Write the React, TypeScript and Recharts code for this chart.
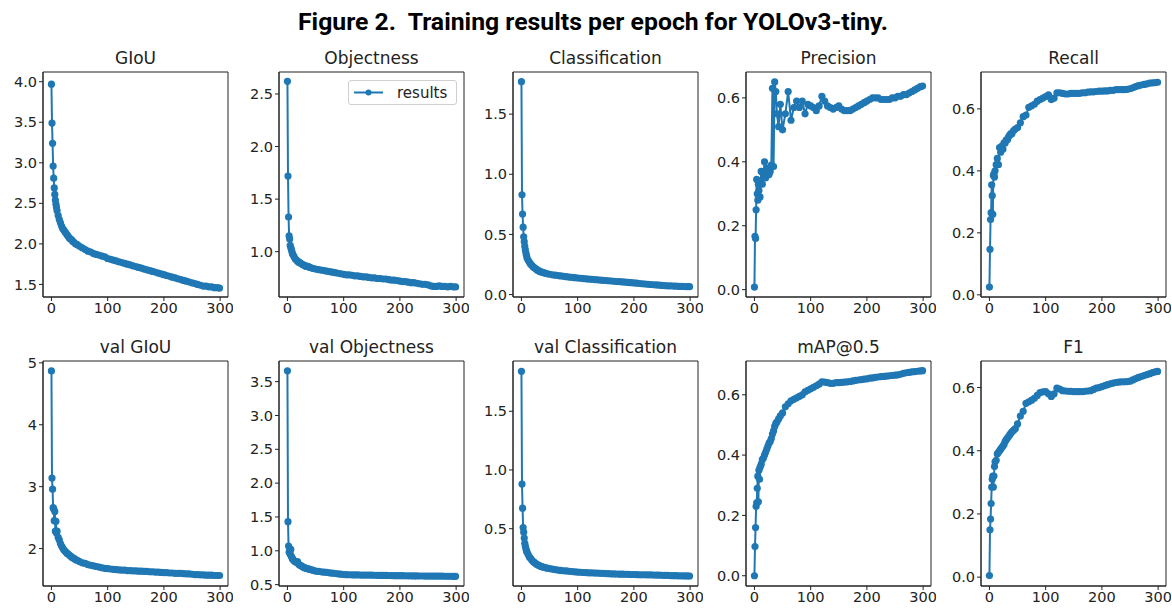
import { LineChart, Line, XAxis, YAxis, ReferenceArea } from "recharts"

// epochs sampled from the 300 training epochs
const epochs = [
  0, 1, 2, 3, 4, 5, 6, 7, 8, 9, 10,
  12, 14, 16, 18, 20, 22, 24, 26, 28, 30, 32, 34, 36, 38, 40,
  43, 46, 50,
  55, 60, 65, 70, 75, 80, 85, 90, 95, 100,
  105, 110, 115, 120, 125, 130, 135, 140, 145, 150,
  155, 160, 165, 170, 175, 180, 185, 190, 195, 200,
  205, 210, 215, 220, 225, 230, 235, 240, 245, 250,
  255, 260, 265, 270, 275, 280, 285, 290, 295,
  299,
]

const giou = [
  3.97, 3.49, 3.24, 2.96, 2.81, 2.69, 2.61, 2.54, 2.49, 2.45, 2.41,
  2.35, 2.3, 2.26, 2.22, 2.19, 2.17, 2.15, 2.13, 2.11, 2.09, 2.07, 2.06, 2.05, 2.03, 2.02,
  2.0, 1.99, 1.97,
  1.95, 1.93, 1.91, 1.9, 1.88, 1.87, 1.86, 1.85, 1.84, 1.82,
  1.81, 1.8, 1.79, 1.78, 1.77, 1.76, 1.75, 1.74, 1.73, 1.72,
  1.71, 1.7, 1.69, 1.68, 1.67, 1.66, 1.65, 1.64, 1.63, 1.62,
  1.61, 1.6, 1.59, 1.58, 1.57, 1.56, 1.55, 1.54, 1.53, 1.52,
  1.51, 1.5, 1.49, 1.48, 1.48, 1.47, 1.47, 1.46, 1.46,
  1.455,
]

const objectness = [
  2.62, 1.72, 1.33, 1.15, 1.12, 1.06, 1.04, 1.02, 1.0, 0.98, 0.97,
  0.95, 0.93, 0.92, 0.91, 0.9, 0.895, 0.89, 0.88, 0.875, 0.87, 0.865, 0.86, 0.86, 0.855, 0.85,
  0.845, 0.84, 0.835,
  0.83, 0.825, 0.82, 0.815, 0.81, 0.805, 0.8, 0.795, 0.79, 0.785,
  0.78, 0.78, 0.775, 0.77, 0.77, 0.765, 0.76, 0.76, 0.755, 0.75,
  0.75, 0.745, 0.745, 0.74, 0.74, 0.735, 0.73, 0.73, 0.725, 0.72,
  0.715, 0.715, 0.71, 0.705, 0.705, 0.7, 0.695, 0.69, 0.69, 0.685,
  0.675, 0.67, 0.67, 0.675, 0.67, 0.67, 0.665, 0.67, 0.665,
  0.665,
]

const classification = [
  1.77, 0.83, 0.67, 0.56, 0.48, 0.44, 0.4, 0.37, 0.345, 0.325, 0.305,
  0.285, 0.27, 0.255, 0.245, 0.235, 0.225, 0.22, 0.212, 0.205, 0.2, 0.195, 0.19, 0.187, 0.184, 0.181,
  0.177, 0.173, 0.169,
  0.165, 0.161, 0.158, 0.155, 0.152, 0.149, 0.146, 0.143, 0.141, 0.138,
  0.136, 0.133, 0.131, 0.129, 0.127, 0.125, 0.123, 0.121, 0.119, 0.117,
  0.115, 0.113, 0.111, 0.109, 0.107, 0.105, 0.103, 0.101, 0.099, 0.097,
  0.095, 0.092, 0.09, 0.088, 0.086, 0.084, 0.082, 0.08, 0.078, 0.076,
  0.075, 0.073, 0.072, 0.071, 0.07, 0.069, 0.068, 0.067, 0.066,
  0.066,
]

const precision = [
  0.008, 0.167, 0.16, 0.25, 0.345, 0.3, 0.28, 0.33, 0.31, 0.34, 0.29,
  0.37, 0.33, 0.36, 0.4, 0.35, 0.37, 0.38, 0.36, 0.37, 0.39, 0.63, 0.385, 0.65, 0.62, 0.55,
  0.51, 0.58, 0.5,
  0.55, 0.62, 0.53, 0.57, 0.59, 0.57, 0.59, 0.55, 0.58, 0.575,
  0.57, 0.56, 0.575, 0.605, 0.59, 0.575, 0.57, 0.565, 0.57, 0.575,
  0.565, 0.56, 0.56, 0.56, 0.565, 0.57, 0.575, 0.58, 0.585, 0.59,
  0.595, 0.6, 0.6, 0.6, 0.595, 0.595, 0.595, 0.595, 0.6, 0.6,
  0.605, 0.605, 0.61, 0.61, 0.615, 0.62, 0.625, 0.63, 0.635,
  0.637,
]

const recall = [
  0.025, 0.147, 0.243, 0.265, 0.355, 0.32, 0.26, 0.385, 0.39, 0.38, 0.4,
  0.42, 0.44, 0.42, 0.475, 0.46, 0.48, 0.47, 0.49, 0.49, 0.5, 0.5, 0.51, 0.515, 0.52, 0.52,
  0.53, 0.535, 0.54,
  0.555, 0.575, 0.58, 0.605, 0.61, 0.615, 0.625, 0.63, 0.635, 0.64,
  0.645, 0.63, 0.635, 0.652, 0.652, 0.65, 0.648, 0.648, 0.65, 0.65,
  0.65, 0.65, 0.652, 0.652, 0.654, 0.655, 0.655, 0.656, 0.657, 0.657,
  0.658, 0.658, 0.66, 0.66, 0.662, 0.662, 0.662, 0.662, 0.663, 0.665,
  0.668, 0.672, 0.675, 0.677, 0.679, 0.681, 0.683, 0.684, 0.685,
  0.686,
]

const valGiou = [
  4.87, 3.14, 2.96, 2.66, 2.64, 2.45, 2.6, 2.28, 2.44, 2.25, 2.28,
  2.18, 2.14, 2.08, 2.04, 2.01, 1.98, 1.96, 1.94, 1.92, 1.91, 1.89, 1.88, 1.86, 1.85, 1.84,
  1.82, 1.81, 1.79,
  1.77, 1.76, 1.74, 1.73, 1.72, 1.71, 1.7, 1.69, 1.68, 1.675,
  1.67, 1.665, 1.66, 1.655, 1.65, 1.65, 1.645, 1.645, 1.64, 1.64,
  1.635, 1.635, 1.63, 1.63, 1.625, 1.625, 1.62, 1.62, 1.615, 1.61,
  1.61, 1.605, 1.605, 1.6, 1.6, 1.6, 1.595, 1.59, 1.59, 1.585,
  1.58, 1.58, 1.575, 1.575, 1.57, 1.57, 1.57, 1.565, 1.565,
  1.565,
]

const valObjectness = [
  3.66, 1.43, 1.07, 0.98, 1.03, 0.95, 1.02, 0.92, 0.9, 0.88, 0.87,
  0.85, 0.84, 0.83, 0.84, 0.8, 0.79, 0.78, 0.77, 0.76, 0.75, 0.745, 0.74, 0.735, 0.73, 0.725,
  0.72, 0.71, 0.7,
  0.695, 0.69, 0.685, 0.68, 0.675, 0.67, 0.665, 0.66, 0.655, 0.65,
  0.648, 0.646, 0.645, 0.644, 0.643, 0.642, 0.641, 0.64, 0.64, 0.64,
  0.639, 0.638, 0.637, 0.636, 0.636, 0.635, 0.634, 0.633, 0.633, 0.632,
  0.632, 0.631, 0.63, 0.63, 0.629, 0.629, 0.628, 0.628, 0.627, 0.627,
  0.626, 0.626, 0.625, 0.625, 0.625, 0.624, 0.624, 0.624, 0.623,
  0.623,
]

const valClassification = [
  1.84, 0.88, 0.675, 0.51, 0.47, 0.42, 0.375, 0.35, 0.33, 0.31, 0.3,
  0.28, 0.26, 0.25, 0.235, 0.225, 0.215, 0.21, 0.2, 0.195, 0.19, 0.185, 0.18, 0.177, 0.174, 0.171,
  0.167, 0.164, 0.16,
  0.155, 0.151, 0.148, 0.145, 0.142, 0.14, 0.137, 0.135, 0.133, 0.131,
  0.129, 0.127, 0.126, 0.124, 0.123, 0.122, 0.121, 0.12, 0.119, 0.118,
  0.117, 0.116, 0.115, 0.114, 0.113, 0.113, 0.112, 0.111, 0.11, 0.11,
  0.109, 0.108, 0.108, 0.107, 0.106, 0.106, 0.105, 0.104, 0.104, 0.103,
  0.102, 0.102, 0.101, 0.1, 0.1, 0.099, 0.099, 0.098, 0.098,
  0.097,
]

const mAP = [
  0.0, 0.097, 0.16, 0.23, 0.242, 0.29, 0.33, 0.245, 0.35, 0.32, 0.36,
  0.37, 0.385, 0.39, 0.4, 0.41, 0.42, 0.43, 0.44, 0.445, 0.455, 0.47, 0.48, 0.495, 0.505, 0.51,
  0.52, 0.53, 0.54,
  0.56, 0.57, 0.58, 0.585, 0.59, 0.595, 0.6, 0.61, 0.615, 0.62,
  0.625, 0.63, 0.635, 0.643, 0.642, 0.64, 0.638, 0.638, 0.64, 0.64,
  0.641, 0.642, 0.643, 0.644, 0.646, 0.648, 0.649, 0.65, 0.652, 0.653,
  0.655, 0.656, 0.658, 0.659, 0.66, 0.661, 0.662, 0.663, 0.664, 0.665,
  0.666, 0.668, 0.671, 0.673, 0.674, 0.676, 0.677, 0.678, 0.679,
  0.68,
]

const f1 = [
  0.005, 0.15, 0.184, 0.233, 0.285, 0.31, 0.32, 0.285, 0.32, 0.35, 0.365,
  0.37, 0.39, 0.395, 0.4, 0.405, 0.41, 0.415, 0.42, 0.43, 0.435, 0.44, 0.445, 0.45, 0.455, 0.46,
  0.465, 0.47, 0.485,
  0.51, 0.525, 0.55, 0.555, 0.56, 0.566, 0.575, 0.584, 0.586, 0.587,
  0.58, 0.572, 0.58, 0.598, 0.595, 0.59, 0.589, 0.588, 0.588, 0.587,
  0.587, 0.587, 0.587, 0.588, 0.589, 0.59, 0.594, 0.598, 0.6, 0.603,
  0.606, 0.609, 0.612, 0.614, 0.616, 0.617, 0.618, 0.618, 0.619, 0.62,
  0.624, 0.628, 0.632, 0.635, 0.638, 0.641, 0.644, 0.647, 0.65,
  0.651,
]

const xTicks = [0, 100, 200, 300]
const giouTicks = [1.5, 2.0, 2.5, 3.0, 3.5, 4.0]
const objTicks = [1.0, 1.5, 2.0, 2.5]
const clsTicks = [0.0, 0.5, 1.0, 1.5]
const rateTicks = [0.0, 0.2, 0.4, 0.6]
const valGiouTicks = [2, 3, 4, 5]
const valObjTicks = [0.5, 1.0, 1.5, 2.0, 2.5, 3.0, 3.5]
const valClsTicks = [0.5, 1.0, 1.5]

const BLUE = "#1f77b4"
const INK = "#222"
const FONT = "'DejaVu Sans', Verdana, sans-serif"
const X_DOMAIN: [number, number] = [-15, 314]
const COLS = [43, 279, 513, 746, 981]
const ROWS = [72, 361]
const PW = 185
const PH = 225
const YW = 40

type PanelProps = {
  title: string
  values: number[]
  domain: [number, number]
  ticks: number[]
  digits: number
  left: number
  top: number
  legend?: boolean
}

function Panel({ title, values, domain, ticks, digits, left, top, legend }: PanelProps) {
  const data = epochs.map((epoch, i) => ({ epoch, value: values[i] }))
  const tickStyle = { fontSize: 14.5, fill: INK, fontFamily: FONT }
  return (
    <div style={{ position: "absolute", left: left - YW, top: top - 5, width: YW + PW + 5, height: PH + 30 }}>
      <div
        style={{
          position: "absolute",
          left: YW,
          width: PW,
          top: -19,
          lineHeight: "20px",
          textAlign: "center",
          fontSize: 17,
          fontFamily: FONT,
          color: INK,
          whiteSpace: "nowrap",
        }}
      >
        {title}
      </div>
      <LineChart width={YW + PW + 5} height={PH + 30} data={data} margin={{ top: 5, right: 5, bottom: 0, left: 0 }}>
        <XAxis
          dataKey="epoch"
          type="number"
          domain={X_DOMAIN}
          ticks={xTicks}
          interval={0}
          allowDataOverflow
          height={25}
          tickSize={4}
          tickMargin={2}
          stroke={INK}
          tick={tickStyle}
        />
        <YAxis
          type="number"
          domain={domain}
          ticks={ticks}
          interval={0}
          allowDataOverflow
          width={YW}
          tickSize={4}
          tickMargin={2}
          stroke={INK}
          tick={tickStyle}
          tickFormatter={(v: number) => v.toFixed(digits)}
        />
        <Line
          type="linear"
          dataKey="value"
          stroke={BLUE}
          strokeWidth={2}
          dot={{ r: 3.6, fill: BLUE, stroke: BLUE, strokeWidth: 0 }}
          activeDot={false}
          isAnimationActive={false}
        />
        <ReferenceArea
          x1={X_DOMAIN[0]}
          x2={X_DOMAIN[1]}
          y1={domain[0]}
          y2={domain[1]}
          fill="none"
          stroke={INK}
          strokeWidth={1}
          ifOverflow="visible"
        />
      </LineChart>
      {legend && (
        <div
          style={{
            position: "absolute",
            left: 109,
            top: 13,
            width: 107,
            height: 23,
            border: "1px solid #cfcfcf",
            borderRadius: 3,
            background: "#fff",
            display: "flex",
            alignItems: "center",
            fontFamily: FONT,
            fontSize: 15,
            color: INK,
          }}
        >
          <svg width={48} height={23}>
            <line x1={5} x2={34} y1={11.5} y2={11.5} stroke={BLUE} strokeWidth={2} />
            <circle cx={19.5} cy={11.5} r={3} fill={BLUE} />
          </svg>
          <span>results</span>
        </div>
      )}
    </div>
  )
}

export default function App() {
  return (
    <div style={{ position: "absolute", left: 0, top: 0, width: 1172, height: 609, background: "#fff", overflow: "hidden" }}>
      <svg width={1172} height={44} style={{ position: "absolute", left: 0, top: 0 }}>
        <text
          x={593}
          y={30}
          textAnchor="middle"
          textLength={590}
          lengthAdjust="spacingAndGlyphs"
          fontSize={23}
          fontWeight={700}
          fontFamily="'Liberation Sans Narrow', 'Roboto', 'Liberation Sans', sans-serif"
          fill="#000"
          style={{ whiteSpace: "pre" }}
        >
          {"Figure 2.  Training results per epoch for YOLOv3-tiny."}
        </text>
      </svg>
      <Panel title="GIoU" values={giou} domain={[1.345, 4.12]} ticks={giouTicks} digits={1} left={COLS[0]} top={ROWS[0]} />
      <Panel title="Objectness" values={objectness} domain={[0.569, 2.709]} ticks={objTicks} digits={1} left={COLS[1]} top={ROWS[0]} legend />
      <Panel title="Classification" values={classification} domain={[-0.02, 1.85]} ticks={clsTicks} digits={1} left={COLS[2]} top={ROWS[0]} />
      <Panel title="Precision" values={precision} domain={[-0.023, 0.681]} ticks={rateTicks} digits={1} left={COLS[3]} top={ROWS[0]} />
      <Panel title="Recall" values={recall} domain={[-0.007, 0.719]} ticks={rateTicks} digits={1} left={COLS[4]} top={ROWS[0]} />
      <Panel title="val GIoU" values={valGiou} domain={[1.395, 5.03]} ticks={valGiouTicks} digits={0} left={COLS[0]} top={ROWS[1]} />
      <Panel title="val Objectness" values={valObjectness} domain={[0.48, 3.805]} ticks={valObjTicks} digits={1} left={COLS[1]} top={ROWS[1]} />
      <Panel title="val Classification" values={valClassification} domain={[0.012, 1.928]} ticks={valClsTicks} digits={1} left={COLS[2]} top={ROWS[1]} />
      <Panel title="mAP@0.5" values={mAP} domain={[-0.034, 0.712]} ticks={rateTicks} digits={1} left={COLS[3]} top={ROWS[1]} />
      <Panel title="F1" values={f1} domain={[-0.028, 0.684]} ticks={rateTicks} digits={1} left={COLS[4]} top={ROWS[1]} />
    </div>
  )
}
